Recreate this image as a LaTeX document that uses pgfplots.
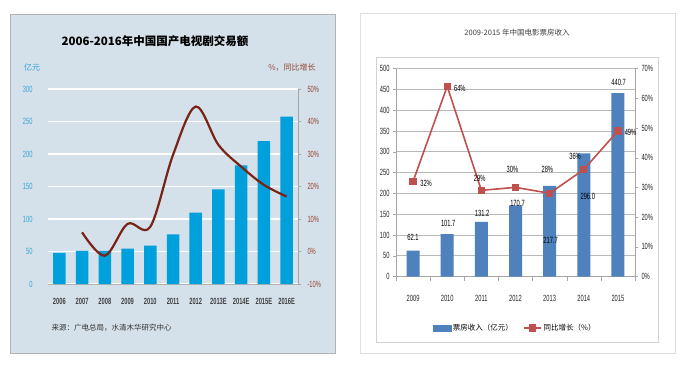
\documentclass[border=0pt]{standalone}
\usepackage{pgfplots}
\usepackage{pgfplotstable}
\pgfplotsset{compat=1.18}
\usepackage{fontspec}
\setmainfont{Liberation Sans}
\newfontfamily\cjk{Noto Sans CJK SC}
\newfontfamily\narrow[FakeStretch=0.64]{Liberation Sans}
\definecolor{lbg}{RGB}{212,225,234}
\definecolor{lbar}{RGB}{0,160,220}
\definecolor{lline}{RGB}{120,35,20}
\definecolor{lcyan}{RGB}{50,165,215}
\definecolor{lbrown}{RGB}{150,70,50}
\definecolor{rbar}{RGB}{79,129,189}
\definecolor{rline}{RGB}{192,80,77}

\pgfplotstableread{
x y lab dx dy
0 62.1 62.1 0 13.4
1 101.7 101.7 1 10.9
2 131.2 131.2 0.7 8.6
3 170.7 170.7 2 2.5
4 217.7 217.7 1 -54
5 296.0 296.0 4 -43.4
6 440.7 440.7 0.7 10.5
}\boxdata

\pgfplotstableread{
x y lab dx dy
0 32 32\% 13 -2
1 64 64\% 12.6 -2
2 29 29\% -1.7 12
3 30 30\% -3 18
4 28 28\% -2.3 24
5 36 36\% -8.7 12.8
6 49 49\% 12.6 -1.8
}\growthdata

\begin{document}
\begin{tikzpicture}[x=1pt,y=1pt]
\useasboundingbox (0,0) rectangle (686,365);
% ---------- left panel ----------
\fill[lbg] (10,12) rectangle (335,351);
\draw[gray!60, line width=0.8pt] (10,12) rectangle (335,351);
\node[font=\cjk\bfseries\fontsize{11.5}{12}\selectfont] at (155,324) {2006-2016年中国国产电视剧交易额};
\node[font=\cjk\fontsize{8}{9}\selectfont, text=lcyan] at (32,298) {亿元};
\node[font=\cjk\fontsize{8}{9}\selectfont, text=lbrown] at (292,297) {\%，同比增长};
\node[font=\cjk\fontsize{7.5}{8}\selectfont, anchor=west, text=black!80] at (48,37) {来源：广电总局，水清木华研究中心};

\begin{axis}[
  at={(48pt,81pt)}, anchor=south west, scale only axis, width=250pt, height=195pt,
  xmin=-0.5, xmax=10.5, ymin=0, ymax=300,
  ytick={0,50,...,300}, xtick={0,...,10},
  xticklabels={2006,2007,2008,2009,2010,2011,2012,2013E,2014E,2015E,2016E},
  axis x line*=bottom, axis y line*=left,
  y axis line style={draw=none}, x axis line style={draw=gray!60, line width=0.8pt, -},
  major tick length=0pt,
  ymajorgrids, grid style={white, line width=1.3pt},
  yticklabel style={font=\narrow\fontsize{9}{10}\selectfont, text=lcyan, xshift=-12pt},
  xticklabel style={font=\narrow\bfseries\fontsize{9}{10}\selectfont, text=black!75, yshift=-11pt},
  /pgf/number format/assume math mode=true,
  ybar, bar width=12.5pt,
]
\addplot[fill=lbar, draw=none] coordinates {(0,48) (1,51) (2,51) (3,54.3) (4,59) (5,76.4) (6,109.7) (7,145.6) (8,182.6) (9,220) (10,257.4)};
\end{axis}

\begin{axis}[
  at={(48pt,81pt)}, anchor=south west, scale only axis, width=250pt, height=195pt,
  xmin=-0.5, xmax=10.5, ymin=-10, ymax=50,
  axis y line*=right, axis x line=none,
  ytick={-10,0,...,50},
  yticklabel={\pgfmathprintnumber{\tick}\%},
  y axis line style={draw=gray!70, line width=0.8pt, -},
  ytick style={draw=gray!70},
  major tick length=3pt, tick align=outside,
  yticklabel style={font=\narrow\fontsize{9}{10}\selectfont, text=lbrown, xshift=3pt},
  /pgf/number format/assume math mode=true,
]
\addplot[lline, line width=2.2pt, smooth, tension=0.55] coordinates {(1,5.9) (2,-1.3) (3,8.5) (4,7.6) (5,29.7) (6,44.6) (7,32.8) (8,26.1) (9,20.5) (10,16.9)};
\end{axis}

% ---------- right panel ----------
\fill[white] (360,12) rectangle (675,352);
\draw[gray!25] (360,12) rectangle (675,352);
\draw[gray!35] (376,23) rectangle (658,308);
\node[font=\cjk\fontsize{7.5}{8}\selectfont, text=black!75] at (517,332) {2009-2015 年中国电影票房收入};

\begin{axis}[
  at={(396pt,88.5pt)}, anchor=south west, scale only axis, width=239pt, height=208pt,
  xmin=-0.5, xmax=6.5, ymin=0, ymax=500, ytick={0,50,...,500},
  xtick={0,...,6}, xticklabels={2009,2010,2011,2012,2013,2014,2015},
  axis x line*=bottom, axis y line*=left,
  axis line style={draw=gray!70, -},
  xtick style={draw=none}, ytick style={draw=gray!70},
  major tick length=3pt, tick align=outside,
  extra x ticks={-0.5,0.5,...,6.5}, extra x tick labels={},
  extra x tick style={xtick style={draw=gray!70}, major tick length=4pt, grid=none},
  ymajorgrids, grid style={gray!55, line width=0.6pt},
  yticklabel style={font=\narrow\fontsize{9}{10}\selectfont, text=black!85},
  xticklabel style={font=\narrow\fontsize{9}{10}\selectfont, text=black!85, yshift=-12pt},
  /pgf/number format/assume math mode=true,
  ybar, bar width=13pt,
]
\addplot[fill=rbar, draw=none,
  nodes near coords, point meta=explicit symbolic,
  visualization depends on={\thisrow{dx}\as\dx},
  visualization depends on={\thisrow{dy}\as\dy},
  every node near coord/.append style={anchor=center, xshift=\dx pt, yshift=\dy pt, font=\narrow\fontsize{9}{10}\selectfont, text=black}]
  table[x=x, y=y, meta=lab] {\boxdata};
\end{axis}

\begin{axis}[
  at={(396pt,88.5pt)}, anchor=south west, scale only axis, width=239pt, height=208pt,
  xmin=-0.5, xmax=6.5, ymin=0, ymax=70,
  axis y line*=right, axis x line=none,
  ytick={0,10,...,70},
  yticklabel={\pgfmathprintnumber{\tick}\%},
  y axis line style={draw=gray!70, -},
  ytick style={draw=gray!70},
  major tick length=3pt, tick align=outside,
  yticklabel style={font=\narrow\fontsize{9}{10}\selectfont, text=black!85},
  /pgf/number format/assume math mode=true,
  legend style={at={(0.5,-0.248)}, anchor=center, draw=none, fill=none,
    font=\cjk\fontsize{7.5}{8}\selectfont, legend columns=2,
    /tikz/every even column/.append style={column sep=8pt}},
]
\addlegendimage{area legend, fill=rbar, draw=rbar}
\addlegendentry{票房收入（亿元）}
\addplot[rline, line width=1.6pt, mark=square*, mark size=2.8pt, mark options={fill=rline, draw=rline},
  nodes near coords, point meta=explicit symbolic,
  visualization depends on={\thisrow{dx}\as\dx},
  visualization depends on={\thisrow{dy}\as\dy},
  every node near coord/.append style={anchor=center, xshift=\dx pt, yshift=\dy pt, font=\narrow\fontsize{9}{10}\selectfont, text=black}]
  table[x=x, y=y, meta=lab] {\growthdata};
\addlegendentry{同比增长（\%）}
\end{axis}
\end{tikzpicture}
\end{document}
